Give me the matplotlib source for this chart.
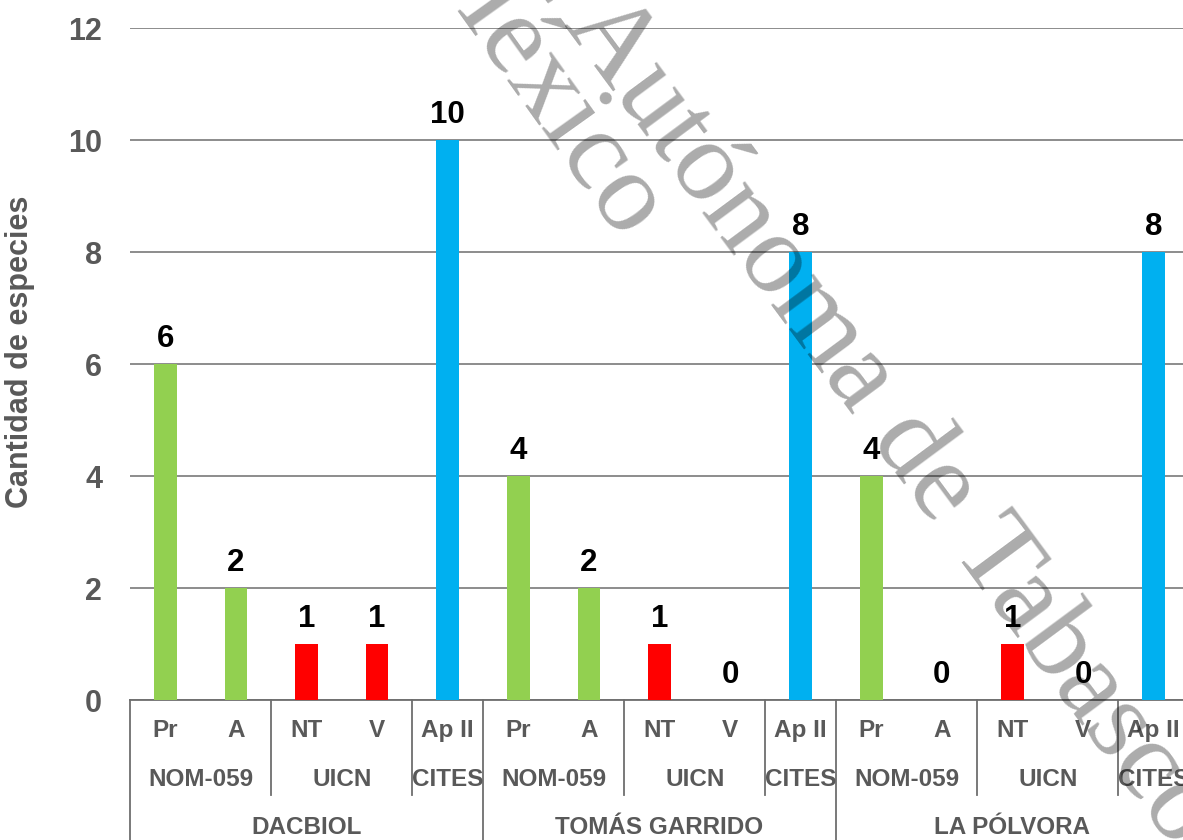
import numpy as np
import matplotlib
matplotlib.use("Agg")
import matplotlib.pyplot as plt
import matplotlib.transforms as mtransforms

plt.rcParams["font.family"] = ["Liberation Sans", "DejaVu Sans"]

# Datos
sitios = ["DACBIOL", "TOMÁS GARRIDO", "LA PÓLVORA"]
criterios = ["NOM-059", "UICN", "CITES"]
criterios_span = [2, 2, 1]
categorias = ["Pr", "A", "NT", "V", "Ap II"]
dacbiol = [6, 2, 1, 1, 10]
tomas_garrido = [4, 2, 1, 0, 8]
la_polvora = [4, 0, 1, 0, 8]
colores_cat = ["#92D050", "#92D050", "#FF0000", "#FF0000", "#00B0F0"]

valores = dacbiol + tomas_garrido + la_polvora
colores = colores_cat * len(sitios)
x = np.arange(len(valores))

W, H = 1183, 840
fig = plt.figure(figsize=(W / 100, H / 100), dpi=100)
# eje: izquierda 130 px, derecha 1189 px (se corta), y=0 en 700 px, y=12 en 28 px
ax = fig.add_axes([130 / W, 1 - 700 / H, (1189 - 130) / W, (700 - 28) / H])

gris = "#6e6e6e"
texto = "#595959"

barras = ax.bar(x, valores, width=0.32, color=colores, zorder=3)
ax.bar_label(barras, padding=7, fontsize=22.5, fontweight="bold", color="black")

ax.set_xlim(-0.5, len(valores) - 0.5)
ax.set_ylim(0, 12)
ax.set_yticks(range(0, 13, 2))
ax.tick_params(axis="y", length=0, pad=20, labelsize=22, labelcolor=texto)
for lab in ax.get_yticklabels():
    lab.set_fontweight("bold")
ax.set_xticks([])
ax.yaxis.grid(True, color=gris, linewidth=1.1, zorder=0)
ax.set_axisbelow(True)
for s in ["top", "right", "left"]:
    ax.spines[s].set_visible(False)
ax.spines["bottom"].set_color(gris)
ax.spines["bottom"].set_linewidth(1.3)

# Eje de categorias en tres niveles
trans = mtransforms.blended_transform_factory(ax.transData, ax.transAxes)
y1, y2, y3 = -0.046, -0.119, -0.19
fs = 17.5
for i, v in enumerate(x):
    ax.text(v, y1, categorias[i % len(categorias)], transform=trans, ha="center",
            va="center", fontsize=fs, fontweight="bold", color=texto)

n_cat = len(categorias)
for g, sitio in enumerate(sitios):
    inicio = g * n_cat - 0.5
    ax.text(inicio + n_cat / 2, y3, sitio, transform=trans, ha="center", va="center",
            fontsize=fs, fontweight="bold", color=texto)
    ax.plot([inicio, inicio], [0, -0.3], transform=trans, color=gris, lw=1.3,
            clip_on=False)
    pos = inicio
    for c, span in zip(criterios, criterios_span):
        ax.text(pos + span / 2, y2, c, transform=trans, ha="center", va="center",
                fontsize=fs, fontweight="bold", color=texto)
        if pos > inicio:
            ax.plot([pos, pos], [0, -0.142], transform=trans, color=gris, lw=1.3,
                    clip_on=False)
        pos += span

fig.text(20 / W, 1 - 352 / H, "Cantidad de especies", rotation=90, ha="center",
         va="center", fontsize=22, fontweight="bold", color=texto)

# Marca de agua
marca = dict(family=["Liberation Serif", "DejaVu Serif"], fontsize=83, color="black",
             alpha=0.33, rotation_mode="anchor", ha="right", va="baseline", zorder=10)
fig.text(1174 / W, 1 - 850 / H, "Universidad Juárez Autónoma de Tabasco",
         rotation=-53.5, **marca)
fig.text(620 / W, 1 - 244 / H, "México", rotation=-54.5, **marca)

fig.savefig("out.png", dpi=100)
